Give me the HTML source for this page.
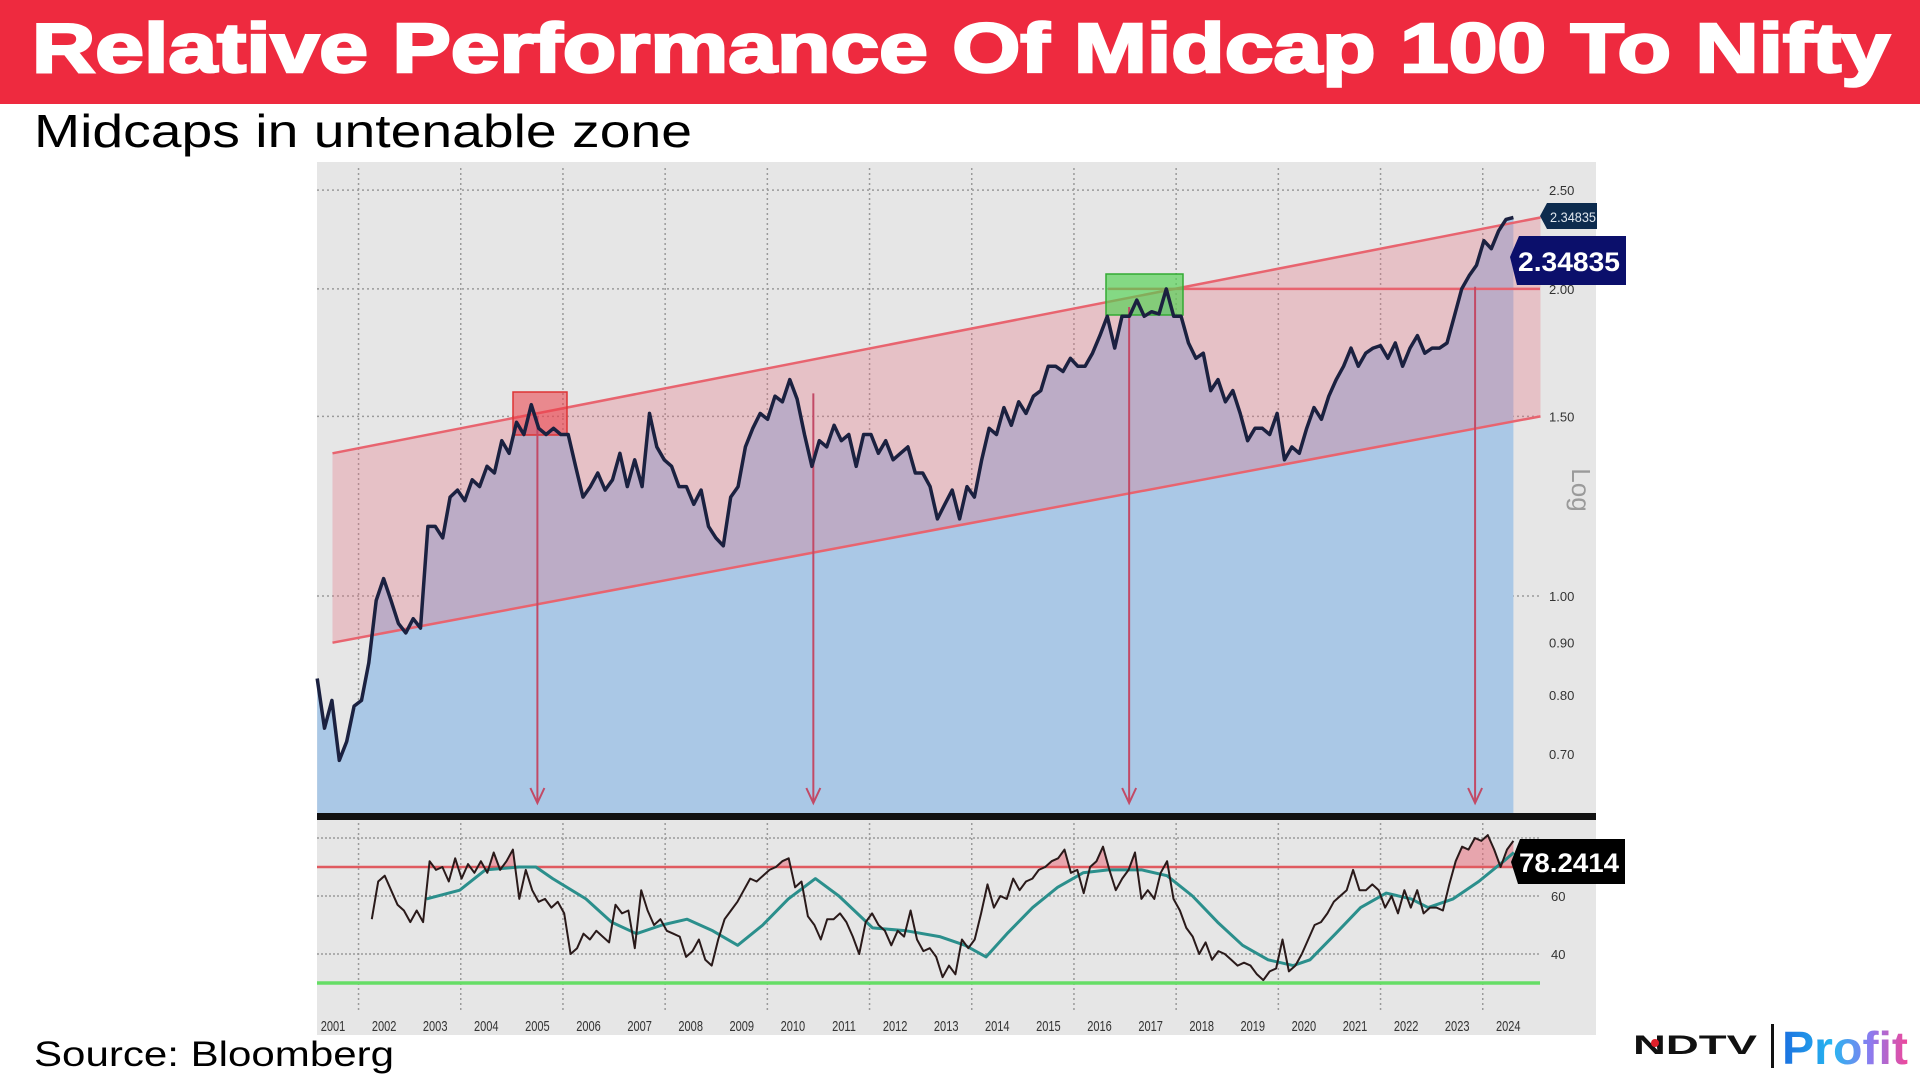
<!DOCTYPE html>
<html><head><meta charset="utf-8"><style>
html,body{margin:0;padding:0;background:#fff;width:1920px;height:1080px;overflow:hidden}
svg{display:block}
text{font-family:"Liberation Sans",sans-serif}
</style></head><body>
<svg id="chart" width="1920" height="1080" viewBox="0 0 1920 1080" xmlns="http://www.w3.org/2000/svg">
<defs>
<linearGradient id="pg" x1="0" x2="1" y1="0" y2="0"><stop offset="0" stop-color="#1a6fe0"/><stop offset="0.4" stop-color="#27b6f0"/><stop offset="0.7" stop-color="#8a7cf0"/><stop offset="1" stop-color="#f0479a"/></linearGradient>
<clipPath id="above70"><rect x="317" y="820" width="1279" height="47"/></clipPath>
</defs>
<rect x="0" y="0" width="1920" height="104" fill="#ee2a3f"/>
<text x="32" y="72" font-size="70" font-weight="bold" fill="#fff" stroke="#fff" stroke-width="2.5" textLength="1858" lengthAdjust="spacingAndGlyphs">Relative Performance Of Midcap 100 To Nifty</text>
<text x="34" y="147" font-size="46" fill="#000" textLength="658" lengthAdjust="spacingAndGlyphs">Midcaps in untenable zone</text>
<rect x="317" y="162" width="1279" height="873" fill="#e6e6e6"/>
<g id="grid"></g>
<g id="upper"></g>
<rect x="317" y="813" width="1279" height="7" fill="#111"/>
<g id="lower"></g>
<g id="axes"></g>
<text x="34" y="1066" font-size="35" fill="#000" textLength="360" lengthAdjust="spacingAndGlyphs">Source: Bloomberg</text>
<g>
<text x="1633" y="1054" font-size="27" font-weight="bold" fill="#111" textLength="124" lengthAdjust="spacingAndGlyphs">NDTV</text>
<circle cx="1655" cy="1043" r="4" fill="#e0202a"/>
<rect x="1771" y="1024" width="3" height="44" fill="#111"/>
<text x="1782" y="1064" font-size="46" font-weight="bold" fill="url(#pg)" textLength="126" lengthAdjust="spacingAndGlyphs">Profit</text>
</g>
</svg>
<script>
// ---- data ----
const ratioStartYear = 2000.69;
const ratioEndYear = 2024.1;
const ratioValues = [0.83,0.742,0.79,0.69,0.72,0.78,0.79,0.86,0.99,1.04,0.99,0.94,0.92,0.95,0.93,
1.17,1.17,1.14,1.25,1.27,1.24,1.30,1.28,1.34,1.32,1.42,1.38,1.48,1.44,1.54,1.46,1.44,1.46,1.44,1.44,
1.34,1.25,1.28,1.32,1.27,1.30,1.38,1.28,1.36,1.28,1.51,1.40,1.36,1.34,1.28,1.28,1.23,1.27,1.17,1.14,1.12,
1.25,1.28,1.40,1.46,1.51,1.49,1.57,1.55,1.63,1.56,1.44,1.34,1.42,1.40,1.47,1.42,1.44,1.34,1.44,1.44,1.38,
1.42,1.36,1.38,1.40,1.32,1.32,1.28,1.19,1.23,1.27,1.19,1.28,1.25,1.36,1.46,1.44,1.53,1.47,1.55,1.51,1.57,
1.59,1.68,1.68,1.66,1.71,1.68,1.68,1.73,1.80,1.88,1.75,1.88,1.88,1.95,1.88,1.90,1.89,2.00,1.88,1.88,1.77,
1.71,1.73,1.59,1.63,1.55,1.59,1.51,1.42,1.46,1.46,1.44,1.51,1.36,1.40,1.38,1.46,1.53,1.49,1.57,1.63,1.68,
1.75,1.68,1.73,1.75,1.76,1.71,1.77,1.68,1.75,1.80,1.73,1.75,1.75,1.77,1.88,2.00,2.06,2.11,2.23,2.19,2.28,2.34,2.35];
const rsiStartYear = 2001.76;
const rsiEndYear = 2024.1;
const rsiValues = [52,65,67,62,57,55,51,55,51,72,69,70,65,73,66,71,68,72,68,75,69,72,76,59,69,62,58,59,56,58,54,
40,42,47,45,48,46,44,57,54,55,42,62,55,50,52,48,47,46,39,41,45,38,36,45,52,55,58,62,66,65,67,69,70,72,73,
63,65,53,50,45,52,52,54,51,46,40,51,54,50,48,43,48,46,55,45,41,42,39,32,36,33,45,42,45,54,64,56,60,59,66,
62,65,66,69,70,72,73,76,68,69,61,70,72,77,69,62,66,69,75,59,62,59,68,72,59,55,49,46,40,44,38,41,40,38,36,
37,36,33,31,34,35,45,34,36,40,45,50,51,54,58,60,62,69,62,62,64,62,56,60,54,62,56,62,54,56,56,55,64,72,77,
76,80,79,81,76,70,76,79];
const maYears = [2002.83,2003.48,2003.98,2004.64,2004.97,2005.30,2005.95,2006.45,2006.94,2007.44,2007.93,2008.43,
2008.92,2009.41,2009.91,2010.44,2010.90,2011.56,2012.22,2012.87,2013.37,2013.78,2014.19,2014.69,2015.18,2015.68,
2016.17,2016.83,2017.32,2017.82,2018.31,2018.80,2019.30,2019.79,2020.12,2020.62,2021.11,2021.61,2022.10,2022.43,
2022.92,2023.42,2023.91,2024.11];
const maValues = [59,62,69,70,70,66,59,51,47,50,52,48,43,50,59,66,60,49,48,46,43,39,47,56,63,68,69,69,67,60,51,43,
38,36,38,47,56,61,59,56,59,65,72,75];
const yearLabels = [2001,2002,2003,2004,2005,2006,2007,2008,2009,2010,2011,2012,2013,2014,2015,2016,2017,2018,2019,2020,2021,2022,2023,2024];
const logTicks = [2.5,2.0,1.5,1.0,0.9,0.8,0.7];
const logTickLabels = ["2.50","2.00","1.50","1.00","0.90","0.80","0.70"];
const rsiTicks = [60,40];
const arrowYears = [2005.0, 2010.4, 2016.58, 2023.35];
const arrowTopValues = [1.50, 1.58, 1.92, 2.01];
const channelUpper = [[2000.99,1.38],[2024.63,2.35]];
const channelLower = [[2000.99,0.90],[2024.63,1.50]];

// ---- scales ----
const NS='http://www.w3.org/2000/svg';
const xOf = t => 333 + (t-2001)*51.1;
const yLog = v => 754 - (Math.log(v)-Math.log(0.7))*443;
const yR = v => 896 - (v-60)*2.9;
function mk(tag, attrs, parent){const e=document.createElementNS(NS,tag);for(const k in attrs)e.setAttribute(k,attrs[k]);parent.appendChild(e);return e;}
const grid=document.getElementById('grid'), up=document.getElementById('upper'), lo=document.getElementById('lower'), ax=document.getElementById('axes');

// gridlines
for(let t=2001.5;t<2024;t+=2){
  const l=mk('line',{x1:xOf(t),x2:xOf(t),y1:168,y2:1010,stroke:'#9a9a9a','stroke-width':1.5,'stroke-dasharray':'2,3'},grid);
  
  
}
logTicks.forEach((v,i)=>{
  if(i<4){const l=mk('line',{x1:317,x2:1540,y1:yLog(v),y2:yLog(v),stroke:'#9a9a9a','stroke-width':1.5,'stroke-dasharray':'2,3'},grid);
  
  }
});
[80,60,40].forEach(v=>{
  const l=mk('line',{x1:317,x2:1540,y1:yR(v),y2:yR(v),stroke:'#9a9a9a','stroke-width':1.5,'stroke-dasharray':'2,2'},grid);
  
  
});

// ratio series points
const rStep=(ratioEndYear-ratioStartYear)/(ratioValues.length-1);
const rPts=ratioValues.map((v,i)=>[xOf(ratioStartYear+i*rStep),yLog(v)]);
const lineD=rPts.map((p,i)=>(i?'L':'M')+p[0].toFixed(1)+','+p[1].toFixed(1)).join('');
const area=mk('path',{d:lineD+`L${rPts[rPts.length-1][0]},813L${rPts[0][0]},813Z`,fill:'#aac8e6'},up);


// channel
const ch=mk('polygon',{points:`${xOf(channelUpper[0][0])},${yLog(channelUpper[0][1])} ${xOf(channelUpper[1][0])},${yLog(channelUpper[1][1])} ${xOf(channelLower[1][0])},${yLog(channelLower[1][1])} ${xOf(channelLower[0][0])},${yLog(channelLower[0][1])}`,fill:'rgba(232,110,125,0.3)'},up);


[channelUpper,channelLower].forEach((c,i)=>{
  const l=mk('line',{x1:xOf(c[0][0]),y1:yLog(c[0][1]),x2:xOf(c[1][0]),y2:yLog(c[1][1]),stroke:'#e8646f','stroke-width':2.5},up);
  
  
});
const hl=mk('line',{x1:1108,x2:1540,y1:yLog(2.0),y2:yLog(2.0),stroke:'#e8646f','stroke-width':2.5},up);


const rb=mk('rect',{x:513,y:392,width:54,height:43,fill:'rgba(235,60,70,0.55)',stroke:'#d33','stroke-width':1.5},up);


const gb=mk('rect',{x:1106,y:274,width:77,height:41,fill:'rgba(80,210,80,0.65)',stroke:'#3a3','stroke-width':1.5},up);


// arrows
arrowYears.forEach((t,i)=>{
  const x=xOf(t), y0=yLog(arrowTopValues[i]);
  const g=mk('g',{},up);
  
  
  mk('line',{x1:x,x2:x,y1:y0,y2:802,stroke:'#c24a66','stroke-width':2},g);
  mk('path',{d:`M${x-7},788L${x},803L${x+7},788`,fill:'none',stroke:'#c24a66','stroke-width':2},g);
});
const ln=mk('path',{d:lineD,fill:'none',stroke:'#1b2140','stroke-width':3.5,'stroke-linejoin':'round'},up);



// RSI panel
const rsStep=(rsiEndYear-rsiStartYear)/(rsiValues.length-1);
const sPts=rsiValues.map((v,i)=>[xOf(rsiStartYear+i*rsStep),yR(v)]);
const sD=sPts.map((p,i)=>(i?'L':'M')+p[0].toFixed(1)+','+p[1].toFixed(1)).join('');
const ob=mk('path',{d:sD+`L${sPts[sPts.length-1][0]},${yR(70)}L${sPts[0][0]},${yR(70)}Z`,fill:'rgba(232,100,115,0.5)','clip-path':'url(#above70)'},lo);


const r70=mk('line',{x1:317,x2:1540,y1:yR(70),y2:yR(70),stroke:'#e05a60','stroke-width':2.5},lo);


const g30=mk('line',{x1:317,x2:1540,y1:yR(30),y2:yR(30),stroke:'#66dd66','stroke-width':3.5},lo);


const ma=mk('path',{d:maYears.map((t,i)=>(i?'L':'M')+xOf(t).toFixed(1)+','+yR(maValues[i]).toFixed(1)).join(''),fill:'none',stroke:'#2b8f8c','stroke-width':3,'stroke-linejoin':'round'},lo);


const rl=mk('path',{d:sD,fill:'none',stroke:'#2a1a1a','stroke-width':2,'stroke-linejoin':'round'},lo);



// axes labels
yearLabels.forEach(y=>{
  const t=mk('text',{x:xOf(y),y:1031,'font-size':13,'text-anchor':'middle',fill:'#333',transform:`translate(${xOf(y)},0) scale(0.85,1.15) translate(${-xOf(y)},${-1031*0.15/1.15})`},ax);
  t.textContent=y;
  
  
});
logTicks.forEach((v,i)=>{
  const t=mk('text',{x:1549,y:yLog(v)+5,'font-size':13,fill:'#333'},ax);
  t.textContent=logTickLabels[i];
  
  
});
rsiTicks.forEach(v=>{
  const t=mk('text',{x:1551,y:yR(v)+5,'font-size':13,fill:'#333'},ax);
  t.textContent=v;
  
  
});
const lg=mk('text',{x:1572,y:490,'font-size':26,fill:'#9a9a9a',transform:'rotate(90 1572 490)','text-anchor':'middle'},ax);
lg.textContent='Log';


// value badges
const sb=mk('polygon',{points:'1540,216 1547,203 1597,203 1597,229 1547,229',fill:'#0d2b4e'},ax);


const st=mk('text',{x:1550,y:222,'font-size':14,fill:'#dfe6ee',textLength:46,lengthAdjust:'spacingAndGlyphs'},ax);
st.textContent='2.34835';


const bb=mk('polygon',{points:'1510,257 1519,236 1626,236 1626,285 1517,285',fill:'#0b0f6b'},ax);


const bt=mk('text',{x:1518,y:271,'font-size':27,'font-weight':'bold',fill:'#fff',textLength:102,lengthAdjust:'spacingAndGlyphs'},ax);
bt.textContent='2.34835';


const kb=mk('polygon',{points:'1511,862 1520,839 1625,839 1625,884 1518,884',fill:'#000'},ax);


const kt=mk('text',{x:1519,y:872,'font-size':27,'font-weight':'bold',fill:'#fff',textLength:100,lengthAdjust:'spacingAndGlyphs'},ax);
kt.textContent='78.2414';


</script>
</body></html>
